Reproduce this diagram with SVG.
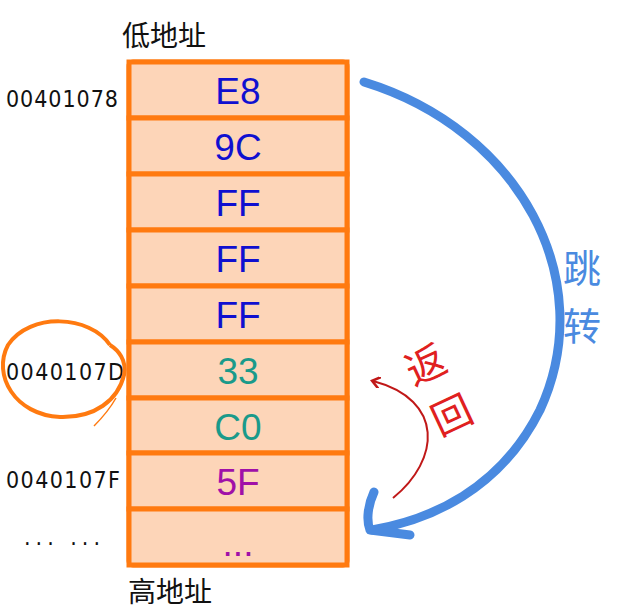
<svg xmlns="http://www.w3.org/2000/svg" width="624" height="611" viewBox="0 0 624 611">
<style>
.cell{fill:#fdd5b8;stroke:#ff7a10;stroke-width:5}
.v{font-family:"Liberation Sans",Arial,sans-serif;font-size:37px;text-anchor:middle}
.a{font-family:"DejaVu Sans Condensed","DejaVu Sans",sans-serif;font-size:23px;fill:#111;font-stretch:condensed}
.h{font-family:"Noto Sans CJK SC",sans-serif;font-size:28px;fill:#111}
</style>
<defs>
<marker id="ar" markerWidth="12" markerHeight="12" refX="7" refY="6" orient="auto" markerUnits="userSpaceOnUse"><path d="M0,0 L8,6 L0,12" fill="none" stroke="#c01818" stroke-width="2.5"/></marker>
</defs>
<rect x="129" y="62" width="218" height="503" rx="4" fill="#fdd5b8" stroke="#ff7a10" stroke-width="5"/>
<g id="c1"><rect class="cell" x="129" y="62" width="218" height="56"/><text class="v" x="238" y="104" fill="#1010d0">E8</text></g>
<g id="c2"><rect class="cell" x="129" y="118" width="218" height="56"/><text class="v" x="238" y="160" fill="#1010d0">9C</text></g>
<g id="c3"><rect class="cell" x="129" y="174" width="218" height="56"/><text class="v" x="238" y="216" fill="#1010d0">FF</text></g>
<g id="c4"><rect class="cell" x="129" y="230" width="218" height="56"/><text class="v" x="238" y="272" fill="#1010d0">FF</text></g>
<g id="c5"><rect class="cell" x="129" y="286" width="218" height="56"/><text class="v" x="238" y="328" fill="#1010d0">FF</text></g>
<g id="c6"><rect class="cell" x="129" y="342" width="218" height="56"/><text class="v" x="238" y="384" fill="#1a9a8a">33</text></g>
<g id="c7"><rect class="cell" x="129" y="398" width="218" height="55"/><text class="v" x="238" y="440" fill="#1a9a8a">C0</text></g>
<g id="c8"><rect class="cell" x="129" y="453" width="218" height="56"/><text class="v" x="238" y="495" fill="#a010a8">5F</text></g>
<g id="c9"><rect class="cell" x="129" y="509" width="218" height="56"/><text class="v" x="238" y="556" fill="#a010a8">...</text></g>
<text class="h" x="122" y="46">低地址</text>
<text class="h" x="128" y="602">高地址</text>
<text class="a" x="6" y="107" textLength="112">00401078</text>
<text class="a" x="6" y="380" textLength="118">0040107D</text>
<text class="a" x="6" y="488" textLength="114">0040107F</text>
<text class="a" x="24" y="545" textLength="76">... ...</text>
<g id="connectors">
<path d="M110,345 C90,315 30,312 8,345 C-8,375 15,415 60,417 C95,418 118,400 124,375 C127,360 118,350 110,345" fill="none" stroke="#ff7a10" stroke-width="4"/>
<path d="M116,398 C108,412 100,420 94,426" fill="none" stroke="#ff7a10" stroke-width="1.5"/>
<path d="M364,82 C520,130 600,280 540,410 C500,490 430,520 372,530" fill="none" stroke="#4a8ae0" stroke-width="9" stroke-linecap="round"/>
<path d="M374,492 C368,505 366,520 370,530 L410,535" fill="none" stroke="#4a8ae0" stroke-width="9" stroke-linecap="round" stroke-linejoin="round"/>
<path d="M393,498 C440,460 445,400 373,381" fill="none" stroke="#c01818" stroke-width="2" marker-end="url(#ar)"/>
</g>
<text x="582" y="282" font-family="Noto Sans CJK SC,sans-serif" font-size="38" fill="#4a8ae0" text-anchor="middle">跳</text>
<text x="582" y="340" font-family="Noto Sans CJK SC,sans-serif" font-size="38" fill="#4a8ae0" text-anchor="middle">转</text>
<text transform="translate(432,378) rotate(-25)" font-family="Noto Sans CJK SC,sans-serif" font-size="40" fill="#e02020" text-anchor="middle">返</text>
<text transform="translate(458,428) rotate(-25)" font-family="Noto Sans CJK SC,sans-serif" font-size="40" fill="#e02020" text-anchor="middle">回</text>
</svg>
